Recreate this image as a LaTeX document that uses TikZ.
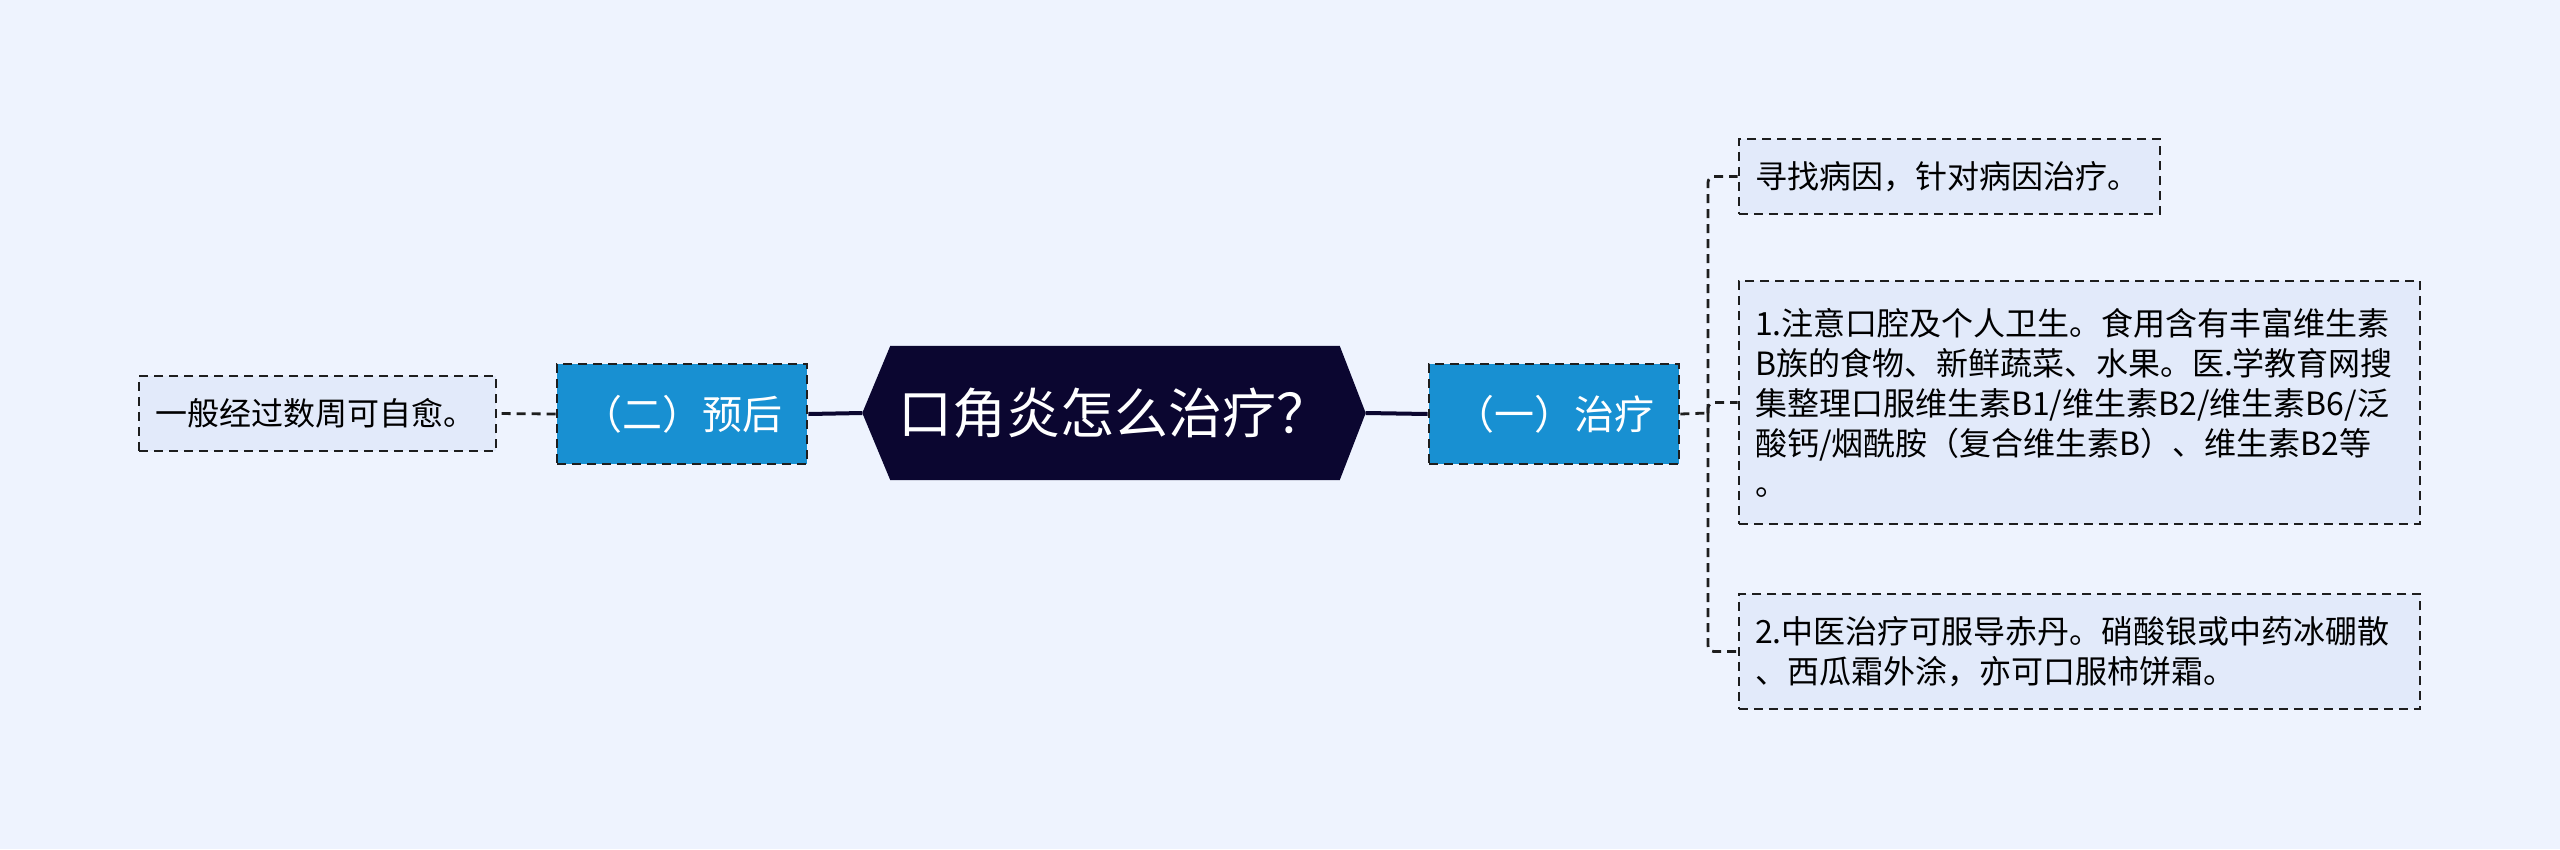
\documentclass[tikz,border=0pt]{standalone}
\usepackage{fontspec}
\setmainfont{Noto Sans CJK SC}
\usepackage{tikz}
\usetikzlibrary{backgrounds}

\definecolor{bgblue}{HTML}{EEF3FE}
\definecolor{leafblue}{HTML}{E2EAFA}
\definecolor{topicblue}{HTML}{1890D2}
\definecolor{rootnavy}{HTML}{0B0630}
\definecolor{linedark}{HTML}{1E1E1E}

\tikzset{
  leafbox/.style={rectangle, draw=linedark, line width=2.8pt, dash pattern=on 9pt off 6pt,
                  fill=leafblue, inner xsep=16pt, inner ysep=0pt, align=left,
                  font=\fontsize{32}{40}\selectfont},
  topicbox/.style={rectangle, draw=linedark, line width=2.8pt, dash pattern=on 9pt off 6pt,
                   fill=topicblue, text=white, minimum width=250pt, minimum height=100pt,
                   inner sep=0pt, font=\fontsize{40}{48}\selectfont},
  elbow/.style={rounded corners=6pt, to path={|- (\tikztotarget)}}
}

\begin{document}
\begin{tikzpicture}[x=1pt,y=-1pt]
\useasboundingbox (0,0) rectangle (2560,849);

\node[inner sep=0pt, minimum width=503pt, minimum height=134pt, text=white,
      font=\fontsize{54}{64}\selectfont] (root) at (1114,413) {口角炎怎么治疗？};

\begin{scope}[every node/.style={topicbox}]
    \node (yuhou) at (682,414) {（二）预后};
    \node (zhiliao) at (1554,414) {（一）治疗};
\end{scope}

\begin{scope}[every node/.style={leafbox}]
    \node[text width=325pt, minimum height=75pt] (ziyu) at (317.5,413.5) {一般经过数周可自愈。};
    \node[text width=389pt, minimum height=75pt] (bingyin) at (1949.5,176.5) {寻找病因，针对病因治疗。};
    \node[text width=649pt, minimum height=243pt] (weisheng) at (2079.5,402.5)
        {1.注意口腔及个人卫生。食用含有丰富维生素\\
         B族的食物、新鲜蔬菜、水果。医.学教育网搜\\
         集整理口服维生素B1/维生素B2/维生素B6/泛\\
         酸钙/烟酰胺（复合维生素B）、维生素B2等\\
         。};
    \node[text width=649pt, minimum height=115pt] (zhongyi) at (2079.5,651.5)
        {2.中医治疗可服导赤丹。硝酸银或中药冰硼散\\
         、西瓜霜外涂，亦可口服柿饼霜。};
\end{scope}

\coordinate (fork) at (1708,413);

\begin{scope}[on background layer]
    \fill[bgblue] (0,0) rectangle (2560,849);
    \fill[rootnavy] (root.west) -- ([xshift=28pt]root.north west) -- ([xshift=-26pt]root.north east)
        -- (root.east) -- ([xshift=-26pt]root.south east) -- ([xshift=28pt]root.south west) -- cycle;
\end{scope}

\begin{scope}[every edge/.style={draw=linedark, line width=2.8pt, dash pattern=on 9pt off 6pt}]
    \path (root.west) edge[solid, line width=4pt, draw=rootnavy] (yuhou.east);
    \path (root.east) edge[solid, line width=4pt, draw=rootnavy] (zhiliao.west);
    \path (yuhou.west) edge (ziyu.east);
    \path (zhiliao.east) edge (fork);
    \path (fork) edge[elbow] (bingyin.west);
    \path (fork) edge[elbow] (weisheng.west);
    \path (fork) edge[elbow] (zhongyi.west);
\end{scope}
\end{tikzpicture}
\end{document}
